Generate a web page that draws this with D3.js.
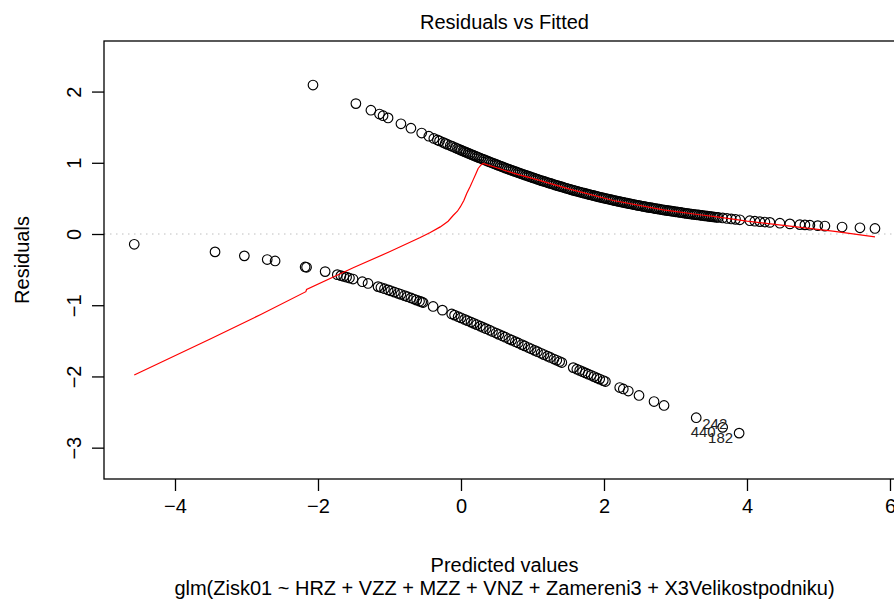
<!DOCTYPE html>
<html>
<head>
<meta charset="utf-8">
<script src="https://cdn.jsdelivr.net/npm/d3@7"></script>
<style>
  body { margin: 0; background: #fff; }
  svg { display: block; font-family: "Liberation Sans", Arial, sans-serif; }
</style>
</head>
<body>
<div id="chart"></div>
<script>
// fitted values / deviance residuals
const fittedUpper = [-2.07, -1.47, -1.26, -1.14, -1.09, -1.02, -0.84, -0.70, -0.55, -0.45, -0.38, -0.33, -0.30, -0.25, -0.22, -0.19, -0.15, -0.12, -0.08, -0.05, -0.02,
  0.000, 0.025, 0.050, 0.075, 0.100, 0.125, 0.150, 0.175, 0.200, 0.225, 0.250, 0.275, 0.300, 0.325, 0.350, 0.375, 0.400, 0.425, 0.450, 0.475,
  0.500, 0.525, 0.550, 0.575, 0.600, 0.625, 0.650, 0.675, 0.700, 0.725, 0.750, 0.775, 0.800, 0.825, 0.850, 0.875, 0.900, 0.925, 0.950, 0.975,
  1.000, 1.025, 1.050, 1.075, 1.100, 1.125, 1.150, 1.175, 1.200, 1.225, 1.250, 1.275, 1.300, 1.325, 1.350, 1.375, 1.400, 1.425, 1.450, 1.475,
  1.500, 1.525, 1.550, 1.575, 1.600, 1.625, 1.650, 1.675, 1.700, 1.725, 1.750, 1.775, 1.800, 1.825, 1.850, 1.875, 1.900, 1.925, 1.950, 1.975,
  2.000, 2.025, 2.050, 2.075, 2.100, 2.125, 2.150, 2.175, 2.200, 2.225, 2.250, 2.275, 2.300, 2.325, 2.350, 2.375, 2.400, 2.425, 2.450, 2.475,
  2.500, 2.525, 2.550, 2.575, 2.600, 2.625, 2.650, 2.675, 2.700, 2.725, 2.750, 2.775, 2.800, 2.825, 2.850, 2.875, 2.900, 2.925, 2.950, 2.975,
  3.000, 3.025, 3.050, 3.075, 3.100, 3.125, 3.150, 3.175, 3.200, 3.225, 3.250, 3.275, 3.300, 3.325, 3.350, 3.375, 3.400, 3.425, 3.450, 3.475,
  3.500, 3.525, 3.550, 3.575, 3.600,
  3.66, 3.72, 3.78, 3.84, 3.90, 4.04, 4.11, 4.18, 4.25, 4.32, 4.46, 4.60, 4.74, 4.81, 4.88, 4.99, 5.09, 5.33, 5.58, 5.79];
const residUpper = [2.092, 1.831, 1.738, 1.684, 1.661, 1.630, 1.548, 1.485, 1.418, 1.373, 1.342, 1.320, 1.307, 1.285, 1.272, 1.259, 1.242, 1.229, 1.212, 1.199, 1.186,
  1.177, 1.166, 1.156, 1.145, 1.135, 1.124, 1.114, 1.104, 1.094, 1.083, 1.073, 1.063, 1.053, 1.043, 1.033, 1.023, 1.013, 1.003, 0.993, 0.984,
  0.974, 0.964, 0.954, 0.945, 0.935, 0.925, 0.916, 0.907, 0.898, 0.889, 0.880, 0.871, 0.862, 0.853, 0.844, 0.835, 0.826, 0.818, 0.809, 0.801,
  0.792, 0.784, 0.775, 0.767, 0.758, 0.750, 0.742, 0.734, 0.726, 0.718, 0.710, 0.703, 0.695, 0.687, 0.679, 0.672, 0.664, 0.657, 0.649, 0.642,
  0.635, 0.628, 0.620, 0.613, 0.606, 0.600, 0.593, 0.586, 0.579, 0.573, 0.566, 0.560, 0.553, 0.547, 0.541, 0.535, 0.528, 0.522, 0.516, 0.510,
  0.504, 0.498, 0.492, 0.487, 0.481, 0.475, 0.469, 0.464, 0.458, 0.453, 0.448, 0.443, 0.437, 0.432, 0.427, 0.422, 0.417, 0.412, 0.407, 0.402,
  0.397, 0.393, 0.388, 0.383, 0.378, 0.374, 0.370, 0.366, 0.361, 0.357, 0.352, 0.348, 0.344, 0.340, 0.336, 0.332, 0.328, 0.324, 0.320, 0.316,
  0.312, 0.309, 0.305, 0.302, 0.298, 0.294, 0.290, 0.287, 0.283, 0.280, 0.276, 0.273, 0.270, 0.267, 0.263, 0.260, 0.256, 0.253, 0.250, 0.247,
  0.244, 0.241, 0.238, 0.235, 0.232,
  0.225, 0.219, 0.212, 0.206, 0.200, 0.187, 0.180, 0.174, 0.168, 0.163, 0.152, 0.142, 0.132, 0.128, 0.123, 0.117, 0.111, 0.098, 0.087, 0.078];

const fittedLower = [-4.57, -3.44, -3.03, -2.71, -2.60, -2.18, -2.16, -1.90, -1.73, -1.68, -1.64, -1.60, -1.56, -1.51, -1.38, -1.30,
  -1.16, -1.12, -1.07, -1.02, -0.98, -0.93, -0.88, -0.84, -0.79, -0.75, -0.70, -0.66, -0.62, -0.58, -0.55, -0.53,
  -0.39, -0.26, -0.13, -0.09, -0.04, 0.00, 0.05, 0.09, 0.14, 0.18, 0.22, 0.27, 0.31, 0.35, 0.40, 0.44, 0.49, 0.53,
  0.58, 0.62, 0.67, 0.71, 0.76, 0.80, 0.85, 0.89, 0.94, 0.98, 1.03, 1.07, 1.12, 1.16, 1.21, 1.25, 1.30, 1.34, 1.38, 1.41,
  1.57, 1.62, 1.66, 1.70, 1.74, 1.78, 1.82, 1.86, 1.90, 1.94, 1.99, 2.02, 2.22, 2.27, 2.34, 2.49, 2.70, 2.84, 3.29, 3.66, 3.89];
const residLower = [-0.144, -0.251, -0.307, -0.359, -0.378, -0.463, -0.467, -0.528, -0.571, -0.585, -0.595, -0.606, -0.618, -0.632, -0.670, -0.694,
  -0.739, -0.752, -0.768, -0.785, -0.798, -0.816, -0.833, -0.847, -0.865, -0.880, -0.898, -0.913, -0.928, -0.943, -0.954, -0.962,
  -1.017, -1.069, -1.123, -1.139, -1.161, -1.177, -1.199, -1.216, -1.237, -1.255, -1.272, -1.294, -1.312, -1.329, -1.351, -1.369, -1.391, -1.409,
  -1.432, -1.449, -1.472, -1.490, -1.512, -1.530, -1.553, -1.571, -1.594, -1.612, -1.634, -1.652, -1.675, -1.693, -1.715, -1.733, -1.756, -1.773, -1.791, -1.805,
  -1.876, -1.898, -1.915, -1.933, -1.950, -1.968, -1.984, -2.002, -2.020, -2.037, -2.058, -2.071, -2.156, -2.176, -2.205, -2.267, -2.352, -2.407, -2.579, -2.715, -2.796];

// red smoother
const smoothX = [-4.57, -3.50, -2.80, -2.17, -2.16, -1.50, -1.00, -0.57, -0.43, -0.29, -0.18, -0.11, -0.05, -0.01, 0.04, 0.08, 0.13, 0.17, 0.21, 0.24, 0.28, 0.31, 0.50, 0.78, 1.00, 1.52, 2.13, 2.83, 3.34, 3.58, 4.00, 4.60, 5.20, 5.79];
const smoothY = [-1.98, -1.47, -1.13, -0.81, -0.78, -0.47, -0.25, -0.05, 0.02, 0.10, 0.18, 0.26, 0.32, 0.38, 0.47, 0.57, 0.67, 0.76, 0.85, 0.92, 0.97, 0.99, 0.93, 0.84, 0.78, 0.63, 0.47, 0.34, 0.27, 0.24, 0.18, 0.11, 0.04, -0.04];

// labelled extreme residuals
const idLabels = ["242", "440", "182"];
const idFitted = [3.29, 3.66, 3.89];
const idResid = [-2.579, -2.715, -2.796];

const xTicks = [-4, -2, 0, 2, 4, 6];
const yTicks = [-3, -2, -1, 0, 1, 2];

const W = 894, H = 601;
const box = {left: 104, top: 41, right: 905, bottom: 479};

const svg = d3.select("#chart").append("svg")
    .attr("width", W)
    .attr("height", H);

const x = d3.scaleLinear().domain([-4.993, 6.21]).range([box.left, box.right]);
const y = d3.scaleLinear().domain([-3.44, 2.71]).range([box.bottom, box.top]);

// zero reference line
svg.append("line")
    .attr("x1", box.left).attr("x2", box.right)
    .attr("y1", y(0)).attr("y2", y(0))
    .attr("stroke", "#bebebe")
    .attr("stroke-dasharray", "1.5,4.5");

// points
const pts = fittedUpper.map((f, i) => ({f: f, r: residUpper[i]}))
    .concat(fittedLower.map((f, i) => ({f: f, r: residLower[i]})));
svg.append("g").selectAll("circle")
    .data(pts)
    .enter().append("circle")
    .attr("cx", d => x(d.f))
    .attr("cy", d => y(d.r))
    .attr("r", 4.8)
    .attr("fill", "none")
    .attr("stroke", "#000")
    .attr("stroke-width", 1.15);

// smoother
const line = d3.line().x(d => x(d[0])).y(d => y(d[1]));
svg.append("path")
    .datum(smoothX.map((v, i) => [v, smoothY[i]]))
    .attr("d", line)
    .attr("fill", "none")
    .attr("stroke", "#ff0000")
    .attr("stroke-width", 1.2);

// id labels
const idOffsets = [{dx: 6, anchor: "start", dy: 11}, {dx: -7, anchor: "end", dy: 10}, {dx: -6, anchor: "end", dy: 10}];
svg.append("g").selectAll("text")
    .data(idLabels)
    .enter().append("text")
    .attr("x", (d, i) => x(idFitted[i]) + idOffsets[i].dx)
    .attr("y", (d, i) => y(idResid[i]) + idOffsets[i].dy)
    .attr("text-anchor", (d, i) => idOffsets[i].anchor)
    .attr("font-size", 15)
    .attr("fill", "#222")
    .text(d => d);

// box
svg.append("rect")
    .attr("x", box.left).attr("y", box.top)
    .attr("width", box.right - box.left).attr("height", box.bottom - box.top)
    .attr("fill", "none")
    .attr("stroke", "#000")
    .attr("stroke-width", 1.3);

// axes
const fmt = d => d < 0 ? "\u2212" + Math.abs(d) : String(d);
const xAxis = svg.append("g")
    .attr("transform", `translate(0,${box.bottom})`)
    .call(d3.axisBottom(x).tickValues(xTicks).tickSize(12).tickPadding(8).tickFormat(fmt));
const yAxis = svg.append("g")
    .attr("transform", `translate(${box.left},0)`)
    .call(d3.axisLeft(y).tickValues(yTicks).tickSize(12).tickPadding(8).tickFormat(fmt));
[xAxis, yAxis].forEach(a => {
  a.select(".domain").remove();
  a.selectAll("line").attr("stroke", "#000").attr("stroke-width", 1.3);
  a.selectAll("text").attr("font-size", 20).attr("fill", "#000")
      .style("font-family", "'Liberation Sans', Arial, sans-serif");
});
yAxis.selectAll(".tick text")
    .attr("x", null).attr("dy", null)
    .attr("text-anchor", "middle")
    .attr("transform", "translate(-30,0) rotate(-90) translate(0,7)");

// titles
svg.append("text")
    .attr("x", (box.left + box.right) / 2).attr("y", 29)
    .attr("text-anchor", "middle").attr("font-size", 20)
    .text("Residuals vs Fitted");
svg.append("text")
    .attr("x", (box.left + box.right) / 2).attr("y", 572)
    .attr("text-anchor", "middle").attr("font-size", 20)
    .text("Predicted values");
svg.append("text")
    .attr("x", (box.left + box.right) / 2).attr("y", 595)
    .attr("text-anchor", "middle").attr("font-size", 20)
    .text("glm(Zisk01 ~ HRZ + VZZ + MZZ + VNZ + Zamereni3 + X3Velikostpodniku)");
svg.append("text")
    .attr("transform", `translate(29,${(box.top + box.bottom) / 2}) rotate(-90)`)
    .attr("text-anchor", "middle").attr("font-size", 20)
    .text("Residuals");
</script>
</body>
</html>
